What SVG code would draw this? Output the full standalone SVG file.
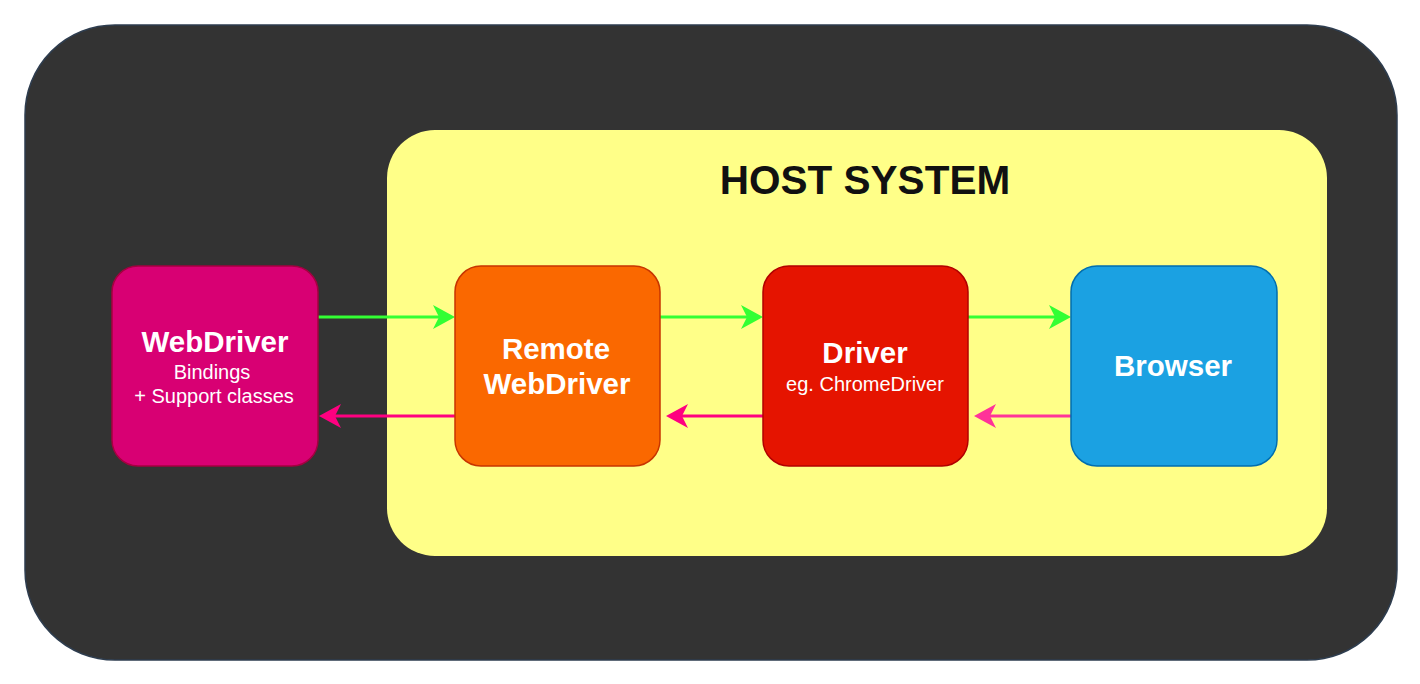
<svg xmlns="http://www.w3.org/2000/svg" width="1420" height="684" viewBox="0 0 1420 684">
<style>
.t{font-family:"Liberation Sans",Arial,sans-serif;fill:#fff;text-anchor:middle}
.b{font-weight:bold;font-size:29.5px}
.s{font-size:20px}
.g{stroke:#33ff33;stroke-width:3;fill:none}
.p{stroke:#ff0080;stroke-width:3;fill:none}
</style>
<rect width="1420" height="684" fill="#fff"/>
<g id="outer"><rect x="25" y="25" width="1372" height="635" rx="90" fill="#333" stroke="#2e3d4f" stroke-width="1.5"/></g>
<g id="host">
<rect x="387" y="130" width="940" height="426" rx="48" fill="#ffff88"/>
<text x="865" y="194" font-family="Liberation Sans,Arial,sans-serif" font-weight="bold" font-size="40.5" fill="#111" text-anchor="middle">HOST SYSTEM</text>
</g>
<g id="connectors">
<path class="g" d="M318 317H448"/><path d="M455 317L433 305L439 317L433 329Z" fill="#33ff33"/>
<path class="g" d="M660 317H756"/><path d="M763 317L741 305L747 317L741 329Z" fill="#33ff33"/>
<path class="g" d="M968 317H1064"/><path d="M1071 317L1049 305L1055 317L1049 329Z" fill="#33ff33"/>
<path class="p" d="M455 416H326"/><path d="M319 416L341 404L335 416L341 428Z" fill="#ff0080"/>
<path class="p" d="M763 416H673"/><path d="M666 416L688 404L682 416L688 428Z" fill="#ff0080"/>
<path class="p" d="M1071 416H981" style="stroke:#ff3399"/><path d="M974 416L996 404L990 416L996 428Z" fill="#ff3399"/>
</g>
<g id="webdriver">
<rect x="112" y="266" width="206" height="200" rx="26" fill="#d80073" stroke="#a50040" stroke-width="1.5"/>
<text class="t b" x="215" y="352">WebDriver</text>
<text class="t s" x="212" y="379">Bindings</text>
<text class="t s" x="214" y="403">+ Support classes</text>
</g>
<g id="remote">
<rect x="455" y="266" width="205" height="200" rx="26" fill="#fa6800" stroke="#c73500" stroke-width="1.5"/>
<text class="t b" x="556" y="359">Remote</text>
<text class="t b" x="557" y="394">WebDriver</text>
</g>
<g id="driver">
<rect x="763" y="266" width="205" height="200" rx="26" fill="#e51400" stroke="#b20000" stroke-width="1.5"/>
<text class="t b" x="865" y="363">Driver</text>
<text class="t s" x="865" y="391">eg. ChromeDriver</text>
</g>
<g id="browser">
<rect x="1071" y="266" width="206" height="200" rx="26" fill="#1ba1e2" stroke="#006eaf" stroke-width="1.5"/>
<text class="t b" x="1173" y="376">Browser</text>
</g>
</svg>
